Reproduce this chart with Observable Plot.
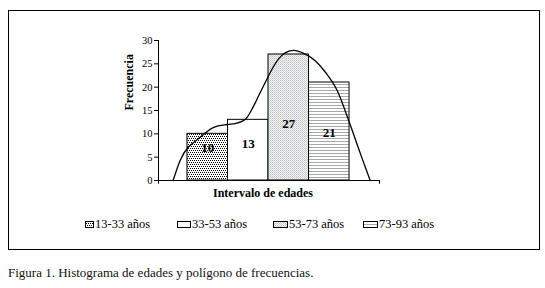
<!DOCTYPE html>
<html>
<head>
<meta charset="utf-8">
<script src="https://cdn.jsdelivr.net/npm/d3@7"></script>
<script src="https://cdn.jsdelivr.net/npm/@observablehq/plot@0.6"></script>
<style>
  html, body { margin: 0; padding: 0; background: #fff; }
  #page { position: relative; width: 545px; height: 288px; overflow: hidden; font-family: "Liberation Serif", "DejaVu Serif", serif; }
  #frame { position: absolute; left: 8px; top: 10px; width: 530px; height: 238px; border: 1px solid #000; }
  #chart { position: absolute; left: 0; top: 0; }
  .leg { position: absolute; top: 217px; height: 14px; font-size: 12.5px; line-height: 14px; color: #000; white-space: nowrap; }
  .leg svg { position: absolute; }
  .leg span { position: absolute; top: 0; }
  #caption { position: absolute; left: 8px; top: 265px; font-size: 13px; color: #111; white-space: nowrap; }
</style>
</head>
<body>
<div id="page">
  <svg width="0" height="0" style="position:absolute">
    <defs>
      <pattern id="pDots" patternUnits="userSpaceOnUse" width="4" height="4">
        <rect width="4" height="4" fill="#fff"/>
        <rect x="0" y="0" width="1" height="1" fill="#000"/>
        <rect x="2" y="0" width="1" height="1" fill="#000"/>
        <rect x="1" y="2" width="1" height="1" fill="#000"/>
        <rect x="3" y="2" width="1" height="1" fill="#000"/>
      </pattern>
      <pattern id="pWhite" patternUnits="userSpaceOnUse" width="4" height="4">
        <rect width="4" height="4" fill="#fff"/>
      </pattern>
      <pattern id="pGray" patternUnits="userSpaceOnUse" width="2" height="2">
        <rect width="2" height="2" fill="#f2f2f2"/>
        <rect x="0" y="0" width="1" height="1" fill="#c4c4c4"/>
        <rect x="1" y="1" width="1" height="1" fill="#cfd8d8"/>
      </pattern>
      <pattern id="pLines" patternUnits="userSpaceOnUse" width="4" height="3">
        <rect width="4" height="3" fill="#fff"/>
        <rect x="0" y="0" width="4" height="1" fill="#a8a8a8"/>
      </pattern>
    </defs>
  </svg>
  <div id="frame"></div>
  <div id="chart"></div>
  <div id="legend"></div>
  <div id="caption">Figura 1. Histograma de edades y polígono de frecuencias.</div>
</div>
<script>
// ---- data ----
const categories = ["13-33 años", "33-53 años", "53-73 años", "73-93 años"];
const classStart = [13, 33, 53, 73];
const classEnd = [33, 53, 73, 93];
const frequencies = [10, 13, 27, 21];
const yTicks = [0, 5, 10, 15, 20, 25, 30];
// smoothed frequency polygon (age, frequency)
const curveAges = [5.9, 9.5, 19.4, 26.0, 32.6, 36.7, 41.6, 45.0, 48.2, 51.5, 54.8, 58.1, 61.4, 65.5, 69.6, 76.2, 81.1, 86.9, 93.2, 98.4, 103.2];
const curveFreq = [0, 4.4, 9.3, 11.4, 12.0, 12.2, 13.1, 15.4, 18.2, 21.1, 23.9, 26.1, 27.4, 27.9, 27.4, 25.6, 23.2, 19.3, 12.1, 5.7, 0];
const yLabel = "Frecuencia";
const xLabel = "Intervalo de edades";

const patterns = ["url(#pDots)", "url(#pWhite)", "url(#pGray)", "url(#pLines)"];

const bars = categories.map((c, i) => ({cat: c, x1: classStart[i], x2: classEnd[i], y: frequencies[i]}));
const curve = curveAges.map((a, i) => ({x: a, y: curveFreq[i]}));
const xMin = -1.3, xMax = 107.8;

const serif = "'Liberation Serif', 'DejaVu Serif', serif";

const chart = Plot.plot({
  width: 545,
  height: 205,
  marginLeft: 158,
  marginRight: 166,
  marginTop: 40,
  marginBottom: 25,
  style: {fontFamily: serif, background: "transparent", color: "#000"},
  x: {type: "linear", domain: [xMin, xMax], axis: null},
  y: {type: "linear", domain: [0, 30], axis: null},
  color: {type: "ordinal", domain: categories, range: patterns},
  marks: [
    Plot.rectY(bars, {x1: "x1", x2: "x2", y: "y", fill: "cat", stroke: "#000", strokeWidth: 1}),
    Plot.line(curve, {x: "x", y: "y", curve: "monotone-x", stroke: "#000", strokeWidth: 1.3}),
    Plot.text(bars, {x: d => (d.x1 + d.x2) / 2, y: d => 4 + d.y * 0.3, text: d => String(d.y), fontSize: 13, fontWeight: "bold", fill: "#000"}),
    Plot.ruleX([xMin], {y1: 0, y2: 30, stroke: "#000", strokeWidth: 1}),
    Plot.ruleY([0], {x1: xMin, x2: xMax, stroke: "#000", strokeWidth: 1}),
    Plot.ruleX([xMin, xMax], {y1: 0, y2: -0.8, stroke: "#000", strokeWidth: 1}),
    Plot.axisY({ticks: yTicks, tickSize: 4, tickPadding: 2, fontSize: 10.5, label: null, stroke: "#000", fill: "#000"}),
    Plot.text([yLabel], {frameAnchor: "left", dx: -29, rotate: -90, fontSize: 12, fontWeight: "bold", fill: "#000"}),
    Plot.text([xLabel], {frameAnchor: "bottom", dy: 16, dx: -6, fontSize: 12, fontWeight: "bold", fill: "#000"})
  ]
});
document.getElementById("chart").appendChild(chart);

// ---- legend ----
const legendSwatchX = [85, 177, 273, 363];
const legendSwatchW = [8, 13, 14, 14];
const legend = document.getElementById("legend");
categories.forEach((c, i) => {
  const item = document.createElement("div");
  item.className = "leg";
  item.style.left = legendSwatchX[i] + "px";
  const w = legendSwatchW[i];
  item.innerHTML =
    `<svg width="${w + 1}" height="8" style="left:0;top:4px"><rect x="0.5" y="0.5" width="${w}" height="6" fill="${patterns[i]}" stroke="#000" stroke-width="1"/></svg>` +
    `<span style="left:${w + 2}px">${c}</span>`;
  legend.appendChild(item);
});
</script>
</body>
</html>
